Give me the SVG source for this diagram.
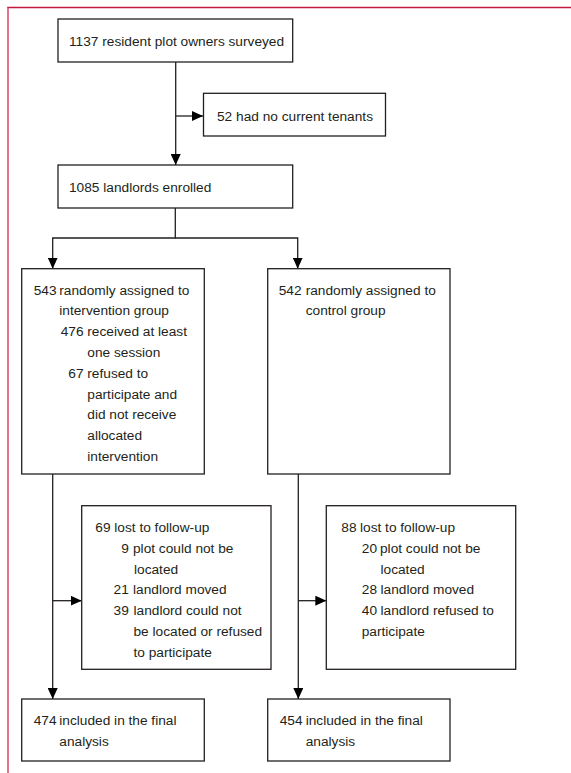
<svg xmlns="http://www.w3.org/2000/svg" width="571" height="773" viewBox="0 0 571 773">
<style>
.bg{fill:#ffffff}
.box{fill:#ffffff;stroke:#231f20;stroke-width:1.3}
.ln{fill:none;stroke:#231f20;stroke-width:1.3}
text{font-family:"Liberation Sans",Arial,sans-serif;font-size:13.7px;fill:#231f20}
.n{text-anchor:end}
</style>
<defs>
<marker id="ah" viewBox="0 0 11 10" refX="11" refY="5" markerWidth="11" markerHeight="10" markerUnits="userSpaceOnUse" orient="auto">
<path d="M0,0 L11,5 L0,10 z" fill="#000000"/>
</marker>
</defs>
<rect class="bg" x="0" y="0" width="571" height="773"/>
<g id="frame">
<line x1="7.2" y1="7.5" x2="571" y2="7.5" stroke="#c4173f" stroke-width="1.5"/>
<line x1="8" y1="7.5" x2="8" y2="773" stroke="#d9446c" stroke-width="1.5"/>
</g>
<g id="connectors">
<line class="ln" x1="175.7" y1="62" x2="175.7" y2="165" marker-end="url(#ah)"/>
<line class="ln" x1="175.7" y1="116" x2="203" y2="116" marker-end="url(#ah)"/>
<polyline class="ln" points="175.3,208 175.3,238 52.7,238 52.7,268.7" marker-end="url(#ah)"/>
<polyline class="ln" points="175.3,238 297.7,238 297.7,268.7" marker-end="url(#ah)"/>
<line class="ln" x1="52.7" y1="474" x2="52.7" y2="699" marker-end="url(#ah)"/>
<line class="ln" x1="52.7" y1="600.7" x2="81.7" y2="600.7" marker-end="url(#ah)"/>
<line class="ln" x1="298.3" y1="474" x2="298.3" y2="699" marker-end="url(#ah)"/>
<line class="ln" x1="298.3" y1="600.7" x2="326.3" y2="600.7" marker-end="url(#ah)"/>
</g>
<g id="surveyed">
<rect class="box" x="58" y="19" width="234.7" height="43"/>
<text x="69" y="45.5">1137 resident plot owners surveyed</text>
</g>
<g id="no-tenants">
<rect class="box" x="203.5" y="93.3" width="182" height="42.7"/>
<text x="217" y="120.5">52 had no current tenants</text>
</g>
<g id="enrolled">
<rect class="box" x="58" y="165" width="234.7" height="43"/>
<text x="69" y="192">1085 landlords enrolled</text>
</g>
<g id="intervention">
<rect class="box" x="21.7" y="268.7" width="182.6" height="205.3"/>
<text class="n" x="56.5" y="294.5">543</text>
<text x="59.3" y="294.5">randomly assigned to</text>
<text x="59.3" y="315.3">intervention group</text>
<text class="n" x="83.5" y="336.1">476</text>
<text x="87.3" y="336.1">received at least</text>
<text x="87.3" y="356.9">one session</text>
<text class="n" x="83.5" y="377.7">67</text>
<text x="87.3" y="377.7">refused to</text>
<text x="87.3" y="398.5">participate and</text>
<text x="87.3" y="419.3">did not receive</text>
<text x="87.3" y="440.1">allocated</text>
<text x="87.3" y="460.9">intervention</text>
</g>
<g id="control">
<rect class="box" x="267.7" y="268.7" width="182.3" height="205.3"/>
<text class="n" x="301.5" y="294.5">542</text>
<text x="305.7" y="294.5">randomly assigned to</text>
<text x="305.7" y="315.3">control group</text>
</g>
<g id="lost-intervention">
<rect class="box" x="81.7" y="505.7" width="189.3" height="163.6"/>
<text class="n" x="110.5" y="532">69</text>
<text x="114.3" y="532">lost to follow-up</text>
<text class="n" x="128.8" y="552.8">9</text>
<text x="133" y="552.8">plot could not be</text>
<text x="134" y="573.6">located</text>
<text class="n" x="128.8" y="594.4">21</text>
<text x="133" y="594.4">landlord moved</text>
<text class="n" x="128.8" y="615.2">39</text>
<text x="133.5" y="615.2">landlord could not</text>
<text x="133.5" y="636">be located or refused</text>
<text x="133.5" y="656.8">to participate</text>
</g>
<g id="lost-control">
<rect class="box" x="326.3" y="505.7" width="189.4" height="163.6"/>
<text class="n" x="356.5" y="532">88</text>
<text x="360" y="532">lost to follow-up</text>
<text class="n" x="377" y="552.8">20</text>
<text x="380" y="552.8">plot could not be</text>
<text x="380.5" y="573.6">located</text>
<text class="n" x="377" y="594.4">28</text>
<text x="380.5" y="594.4">landlord moved</text>
<text class="n" x="377" y="615.2">40</text>
<text x="380.5" y="615.2">landlord refused to</text>
<text x="361.7" y="636">participate</text>
</g>
<g id="final-intervention">
<rect class="box" x="21.7" y="699" width="182.6" height="62"/>
<text class="n" x="56.5" y="725.3">474</text>
<text x="59.3" y="725.3">included in the final</text>
<text x="59.3" y="746.1">analysis</text>
</g>
<g id="final-control">
<rect class="box" x="267.7" y="699" width="182.3" height="62"/>
<text class="n" x="302.5" y="725.3">454</text>
<text x="305.7" y="725.3">included in the final</text>
<text x="305.7" y="746.1">analysis</text>
</g>
</svg>
